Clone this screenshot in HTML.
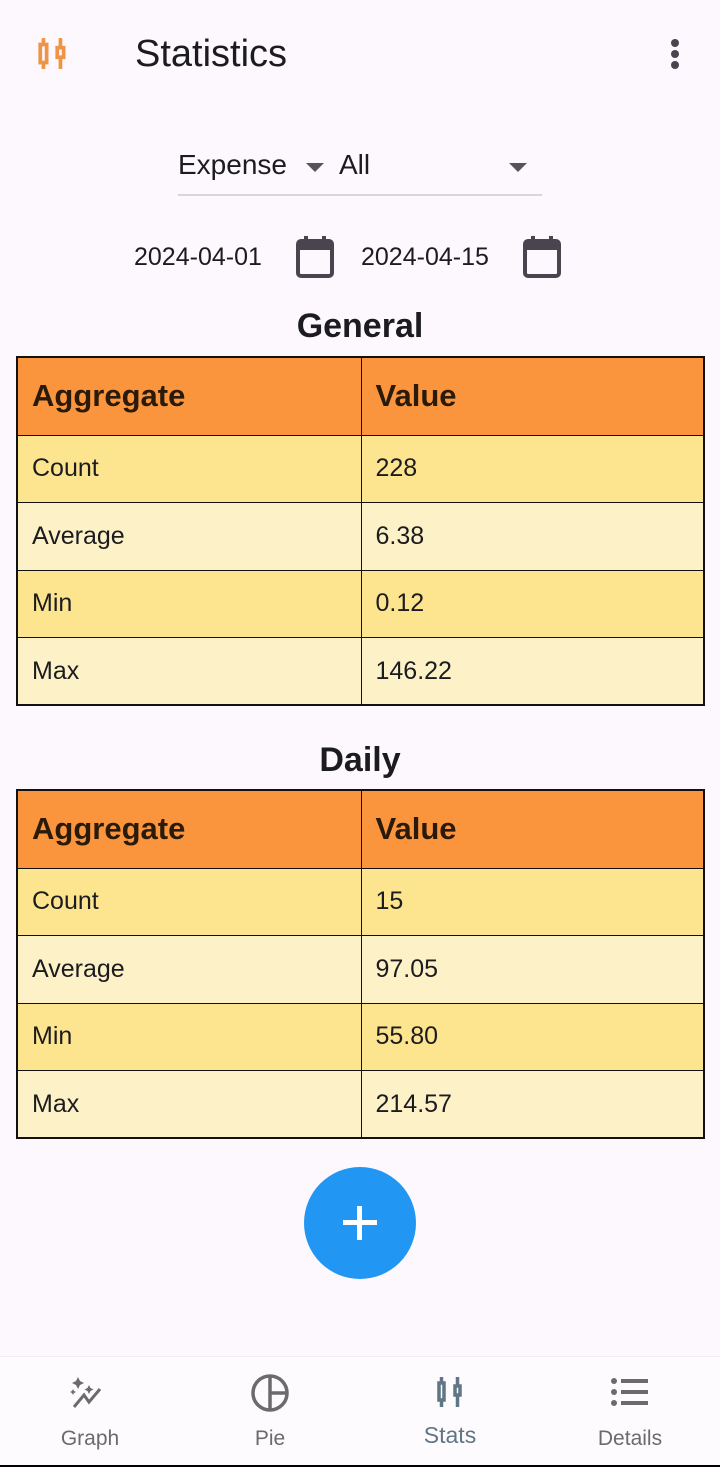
<!DOCTYPE html>
<html><head><meta charset="utf-8"><style>
*{margin:0;padding:0;box-sizing:border-box}
body{width:720px;height:1467px;background:#fdf8fd;font-family:"Liberation Sans",Roboto,sans-serif;position:relative;overflow:hidden;color:#1c1b1f}
.abs{position:absolute}
table{position:absolute;left:16px;width:689px;border-collapse:collapse;border:2px solid #111}
td{border:1.5px solid #111;padding-left:14px;font-size:25px;height:67.5px}
th{border:1.5px solid #111;padding-left:14px;font-size:31px;font-weight:bold;text-align:left;height:78px;background:#fa953e;color:#2a1a0a}
tr.o td{background:#fce58e}
tr.e td{background:#fdf2c7}
td:first-child,th:first-child{width:344px}
.title{position:absolute;width:720px;text-align:center;font-weight:bold;font-size:34px}
.nav{position:absolute;top:1356px;left:0;width:720px;height:109px;background:#fefbfe;border-top:1px solid #eee}
.nl{position:absolute;font-size:21px;color:#6b6b6b;text-align:center;width:180px}
</style></head><body>
<svg class="abs" style="left:37px;top:36px" width="32" height="34" viewBox="0 0 30 32"><g fill="none" stroke="#ef9445" stroke-width="3.5"><rect x="3" y="8" width="6" height="17"/><line x1="6" y1="2" x2="6" y2="8"/><line x1="6" y1="25" x2="6" y2="31"/><rect x="19" y="11" width="6" height="9"/><line x1="22" y1="2" x2="22" y2="11"/><line x1="22" y1="20" x2="22" y2="31"/></g></svg>
<div class="abs" style="left:135px;top:33px;font-size:38px">Statistics</div>
<svg class="abs" style="left:668px;top:38px" width="14" height="32"><circle cx="7" cy="5" r="4" fill="#49454f"/><circle cx="7" cy="16" r="4" fill="#49454f"/><circle cx="7" cy="27" r="4" fill="#49454f"/></svg>

<div class="abs" style="left:178px;top:149px;font-size:28px">Expense</div>
<div class="abs" style="left:306px;top:163px;width:0;height:0;border-left:9px solid transparent;border-right:9px solid transparent;border-top:9px solid #555"></div>
<div class="abs" style="left:339px;top:149px;font-size:28px">All</div>
<div class="abs" style="left:509px;top:163px;width:0;height:0;border-left:9px solid transparent;border-right:9px solid transparent;border-top:9px solid #555"></div>
<div class="abs" style="left:178px;top:194px;width:364px;height:2px;background:#d8d6da"></div>

<div class="abs" style="left:134px;top:243px;font-size:25px">2024-04-01</div>
<svg class="abs" style="left:296px;top:236px" width="38" height="42"><rect x="2" y="5" width="34" height="35" rx="3" fill="none" stroke="#49454f" stroke-width="4"/><rect x="2" y="5" width="34" height="9" fill="#49454f"/><rect x="8" y="0" width="4" height="6" fill="#49454f"/><rect x="26" y="0" width="4" height="6" fill="#49454f"/></svg>
<div class="abs" style="left:361px;top:243px;font-size:25px">2024-04-15</div>
<svg class="abs" style="left:523px;top:236px" width="38" height="42"><rect x="2" y="5" width="34" height="35" rx="3" fill="none" stroke="#49454f" stroke-width="4"/><rect x="2" y="5" width="34" height="9" fill="#49454f"/><rect x="8" y="0" width="4" height="6" fill="#49454f"/><rect x="26" y="0" width="4" height="6" fill="#49454f"/></svg>

<div class="title" style="top:307px">General</div>
<table style="top:356px">
<tr><th>Aggregate</th><th>Value</th></tr>
<tr class="o"><td>Count</td><td>228</td></tr>
<tr class="e"><td>Average</td><td>6.38</td></tr>
<tr class="o"><td>Min</td><td>0.12</td></tr>
<tr class="e"><td>Max</td><td>146.22</td></tr>
</table>

<div class="title" style="top:741px">Daily</div>
<table style="top:789px">
<tr><th>Aggregate</th><th>Value</th></tr>
<tr class="o"><td>Count</td><td>15</td></tr>
<tr class="e"><td>Average</td><td>97.05</td></tr>
<tr class="o"><td>Min</td><td>55.80</td></tr>
<tr class="e"><td>Max</td><td>214.57</td></tr>
</table>

<div class="abs" style="left:304px;top:1167px;width:112px;height:112px;border-radius:50%;background:#2196f3"><div style="position:absolute;left:39px;top:53px;width:34px;height:5px;background:#fff"></div><div style="position:absolute;left:53px;top:39px;width:5px;height:34px;background:#fff"></div></div>

<div class="nav">
<svg class="abs" style="left:70px;top:18px" width="42" height="34"><g fill="#6b6b6b"><path d="M8 2l2 4 4 2-4 2-2 4-2-4-4-2 4-2z"/><path d="M19 10l1.5 3 3 1.5-3 1.5-1.5 3-1.5-3-3-1.5 3-1.5z"/><path d="M3 14l1 2 2 1-2 1-1 2-1-2-2-1 2-1z"/></g><polyline points="4,32 14,20 19,27 30,14" fill="none" stroke="#6b6b6b" stroke-width="3"/></svg>
<div class="nl" style="left:0;top:70px">Graph</div>
<svg class="abs" style="left:250px;top:16px" width="40" height="40"><circle cx="20" cy="20" r="17" fill="none" stroke="#6b6b6b" stroke-width="3.5"/><line x1="20" y1="3" x2="20" y2="37" stroke="#6b6b6b" stroke-width="3.5"/><line x1="20" y1="20" x2="37" y2="20" stroke="#6b6b6b" stroke-width="3.5"/></svg>
<div class="nl" style="left:180px;top:70px">Pie</div>
<svg class="abs" style="left:436px;top:18px" width="30" height="34"><g fill="none" stroke="#5f7684" stroke-width="3.5"><rect x="3" y="8" width="5" height="17"/><line x1="5.5" y1="2" x2="5.5" y2="8"/><line x1="5.5" y1="25" x2="5.5" y2="32"/><rect x="19" y="11" width="5" height="9"/><line x1="21.5" y1="2" x2="21.5" y2="11"/><line x1="21.5" y1="20" x2="21.5" y2="32"/></g></svg>
<div class="nl" style="left:360px;top:65px;color:#5f7684;font-size:23px">Stats</div>
<svg class="abs" style="left:611px;top:20px" width="38" height="30"><g fill="#6b6b6b"><circle cx="3" cy="4" r="3"/><circle cx="3" cy="15" r="3"/><circle cx="3" cy="26" r="3"/><rect x="10" y="2" width="27" height="4"/><rect x="10" y="13" width="27" height="4"/><rect x="10" y="24" width="27" height="4"/></g></svg>
<div class="nl" style="left:540px;top:70px">Details</div>
</div>
<div class="abs" style="left:0;top:1465px;width:720px;height:2px;background:#000"></div>
</body></html>
